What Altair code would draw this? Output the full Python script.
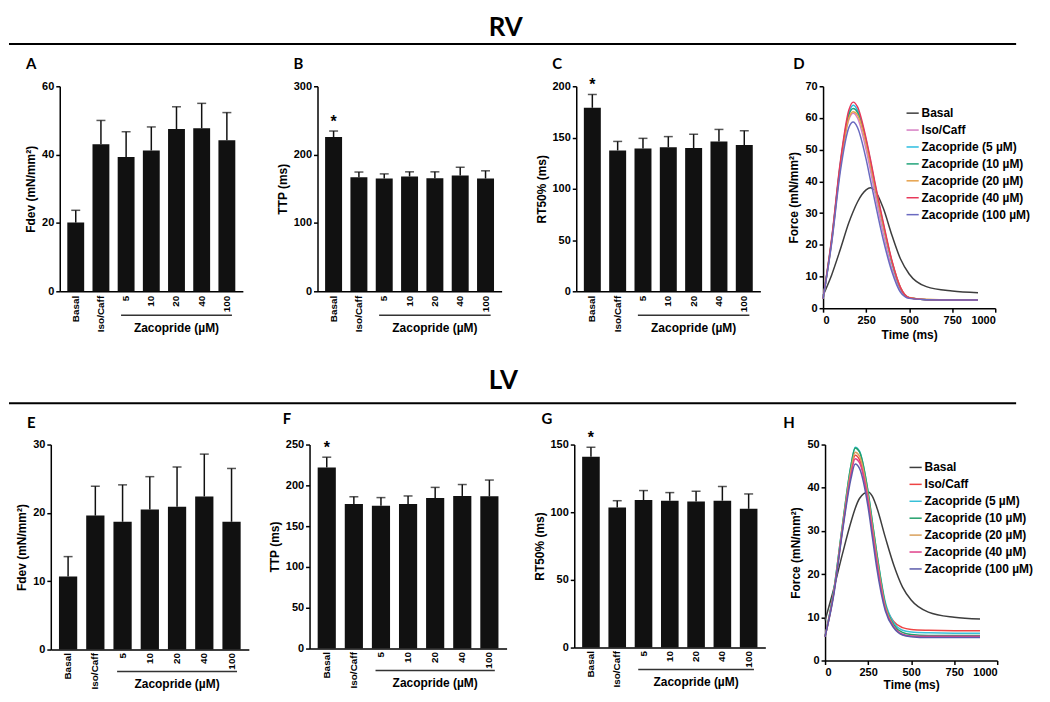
import altair as alt
import pandas as pd

# ---------------- data ----------------
cats = ["Basal", "Iso/Caff", "5", "10", "20", "40", "100"]
zac_label = "Zacopride (µM)"

# RV
rv_fdev = [20.1, 43.0, 39.3, 41.2, 47.5, 47.7, 44.2]
rv_fdev_up = [23.7, 50.0, 46.7, 48.1, 54.0, 55.0, 52.3]
rv_ttp = [225.6, 167.0, 165.0, 168.0, 165.5, 169.5, 165.0]
rv_ttp_up = [234.5, 174.5, 171.8, 174.8, 174.8, 181.5, 176.3]
rv_rt50 = [179.0, 137.4, 139.4, 140.5, 139.8, 146.2, 142.6]
rv_rt50_up = [192.0, 146.2, 149.2, 150.9, 153.2, 157.9, 156.6]

# LV
lv_fdev = [10.7, 19.6, 18.7, 20.5, 20.9, 22.4, 18.7]
lv_fdev_up = [13.6, 23.9, 24.1, 25.3, 26.7, 28.6, 26.5]
lv_ttp = [222.0, 177.0, 175.0, 177.0, 184.5, 187.0, 186.5]
lv_ttp_up = [234.5, 186.0, 185.0, 187.0, 197.5, 201.0, 206.5]
lv_rt50 = [141.0, 103.5, 109.0, 108.5, 108.0, 108.5, 102.5]
lv_rt50_up = [148.0, 108.5, 116.0, 114.5, 115.5, 119.0, 113.5]

series_names = ["Basal", "Iso/Caff", "Zacopride (5 µM)", "Zacopride (10 µM)",
                "Zacopride (20 µM)", "Zacopride (40 µM)", "Zacopride (100 µM)"]
time_ms = [0, 50, 100, 150, 175, 200, 250, 275, 300, 350, 400, 450, 500, 600, 750, 900]

rv_basal = [4.0, 10.5, 18.5, 27.0, 30.5, 33.5, 37.3, 38.0, 37.2, 31.5, 23.0, 15.5, 10.8, 6.8, 5.4, 4.9]
rv_iso = [3.0, 21.0, 44.5, 59.5, 61.5, 60.0, 50.0, 43.5, 36.5, 23.5, 12.5, 5.5, 3.2, 2.7, 2.6, 2.6]
rv_z5 = [3.0, 21.5, 45.5, 61.5, 64.0, 62.5, 53.0, 46.5, 39.5, 26.5, 14.5, 6.3, 3.3, 2.7, 2.6, 2.6]
rv_z10 = [3.0, 21.5, 45.0, 61.0, 63.0, 61.8, 52.5, 46.0, 39.0, 26.0, 14.5, 6.3, 3.3, 2.7, 2.6, 2.6]
rv_z20 = [3.0, 21.0, 44.5, 60.0, 62.0, 61.0, 52.0, 45.5, 38.8, 26.0, 14.8, 6.5, 3.4, 2.8, 2.6, 2.6]
rv_z40 = [3.0, 22.0, 46.0, 62.5, 65.0, 63.5, 53.5, 47.0, 40.0, 27.0, 15.0, 6.5, 3.3, 2.7, 2.6, 2.6]
rv_z100 = [3.0, 20.5, 43.0, 57.0, 58.7, 57.0, 47.0, 40.5, 34.0, 21.5, 11.5, 5.0, 3.1, 2.7, 2.6, 2.6]

lv_basal = [9.3, 16.5, 24.5, 32.0, 35.2, 37.5, 39.0, 38.0, 35.5, 28.5, 22.0, 17.0, 14.0, 11.2, 10.0, 9.6]
lv_iso = [5.5, 15.5, 30.0, 43.5, 47.5, 46.5, 37.0, 30.5, 23.5, 13.0, 9.0, 7.6, 7.2, 7.0, 6.9, 6.9]
lv_z5 = [5.5, 16.0, 31.0, 45.0, 49.4, 48.5, 39.0, 32.0, 25.0, 13.5, 8.7, 7.0, 6.6, 6.4, 6.3, 6.3]
lv_z10 = [5.5, 16.0, 31.0, 45.0, 49.2, 48.3, 39.0, 32.0, 25.0, 13.0, 8.2, 6.5, 6.0, 5.8, 5.8, 5.8]
lv_z20 = [5.5, 15.5, 30.5, 44.0, 48.2, 47.3, 38.0, 31.0, 24.0, 12.5, 7.8, 6.0, 5.6, 5.4, 5.4, 5.4]
lv_z40 = [5.5, 15.5, 30.0, 43.0, 46.7, 45.8, 37.0, 30.0, 23.0, 12.0, 7.8, 6.1, 5.7, 5.6, 5.6, 5.6]
lv_z100 = [5.5, 15.0, 29.5, 42.0, 45.5, 44.5, 35.5, 28.5, 21.5, 11.5, 7.5, 5.9, 5.5, 5.3, 5.3, 5.3]

rv_colors = ["#3d3d3d", "#d77fc4", "#2bbde0", "#21a37a", "#e6a04a", "#e8385a", "#6a6ac0"]
lv_colors = ["#3d3d3d", "#ee4444", "#37c0d8", "#22a06b", "#d9a05b", "#e0408a", "#5b5bab"]

FONT = "Liberation Sans"
LFONT = "Lato"
X0 = 9          # page x of the layout origin (after 1px spacer)
TOTAL_W = 1036  # page x 9 .. 1045


def helper(cell, plot):
    cl, ct, cr, cb = cell
    pl, pt = plot
    return alt.Chart(pd.DataFrame({"k": [0]})).mark_rect(opacity=0).encode(
        x=alt.value(cl - pl), x2=alt.value(cr - pl),
        y=alt.value(ct - pt), y2=alt.value(cb - pt))


def spacer():
    return alt.Chart(pd.DataFrame({"k": [0]})).mark_rect(opacity=0).encode(
        x=alt.value(0), x2=alt.value(1), y=alt.value(0), y2=alt.value(1)
    ).properties(width=1, height=1)


def letter(txt, pos, plot):
    return alt.Chart(pd.DataFrame({"t": [txt]})).mark_text(
        font=LFONT, fontSize=15, fontWeight="bold", align="left",
        baseline="alphabetic", color="black").encode(
        text="t:N", x=alt.value(pos[0] - plot[0]), y=alt.value(pos[1] - plot[1]))


def bar_panel(ltxt, means, ups, ytitle, ymax, ystep, star, plot, w, h, cell,
              lpos, lab_pad, zac_dy):
    df = pd.DataFrame({"cat": cats, "mean": means, "up": ups})
    xs = alt.Scale(domain=cats, paddingInner=0.33, paddingOuter=0.3)
    xax = alt.Axis(title=None, labelAngle=-90, ticks=False, tickSize=0,
                   labelPadding=lab_pad, labelFontSize=10)
    x = alt.X("cat:N", scale=xs, axis=xax, sort=None)
    ys = alt.Scale(domain=[0, ymax], nice=False)
    yax = alt.Axis(title=ytitle, values=list(range(0, ymax + 1, ystep)))
    base = alt.Chart(df)
    layers = [helper(cell, plot)]
    layers.append(base.mark_bar(color="#111111").encode(
        x=x, y=alt.Y("mean:Q", scale=ys, axis=yax)))
    layers.append(base.mark_rule(color="#111111", strokeWidth=1.5).encode(
        x=alt.X("cat:N", scale=xs), y=alt.Y("mean:Q", scale=ys), y2="up:Q"))
    layers.append(base.mark_tick(color="#111111", thickness=1.5, size=9).encode(
        x=alt.X("cat:N", scale=xs), y=alt.Y("up:Q", scale=ys)))
    if star:
        layers.append(base.transform_filter(alt.datum.cat == "Basal").mark_text(
            text="*", font=FONT, fontSize=16, fontWeight="bold", dy=-9,
            color="black").encode(x=alt.X("cat:N", scale=xs), y=alt.Y("up:Q", scale=ys)))
    zr = pd.DataFrame({"cat": ["5"], "cat_end": ["100"]})
    layers.append(alt.Chart(zr).mark_rule(color="#333333", strokeWidth=1.5).encode(
        x=alt.X("cat:N", scale=xs, bandPosition=0.2),
        x2=alt.X2(field="cat_end", bandPosition=0.8),
        y=alt.value(h + zac_dy[0])))
    zt = pd.DataFrame({"cat": ["20"], "t": [zac_label]})
    layers.append(alt.Chart(zt).mark_text(
        font=FONT, fontSize=12, fontWeight="bold", baseline="middle",
        color="black").encode(
        x=alt.X("cat:N", scale=xs), y=alt.value(h + zac_dy[1]), text="t:N"))
    layers.append(letter(ltxt, lpos, plot))
    return alt.layer(*layers).properties(width=w, height=h)


def line_panel(ltxt, series_vals, colors, ymax, plot, w, h, cell, lpos,
               legend_xy, title_pad):
    rows = []
    for name, vals in zip(series_names, series_vals):
        for ti, v in zip(time_ms, vals):
            rows.append({"t": ti, "f": v, "s": name})
    df = pd.DataFrame(rows)
    lines = alt.Chart(df).mark_line(strokeWidth=1.5, interpolate="monotone").encode(
        x=alt.X("t:Q", scale=alt.Scale(domain=[0, 1000], nice=False),
                axis=alt.Axis(title="Time (ms)", values=[0, 250, 500, 750, 1000],
                              format="d", titlePadding=title_pad)),
        y=alt.Y("f:Q", scale=alt.Scale(domain=[0, ymax], nice=False),
                axis=alt.Axis(title="Force (mN/mm²)",
                              values=list(range(0, ymax + 1, 10)))),
        color=alt.Color("s:N", scale=alt.Scale(domain=series_names, range=colors),
                        legend=alt.Legend(title=None, orient="none",
                                          legendX=legend_xy[0], legendY=legend_xy[1],
                                          symbolType="stroke", symbolSize=150,
                                          symbolStrokeWidth=1.5, labelFontSize=12,
                                          labelFont=FONT, labelFontWeight="bold",
                                          labelColor="black", rowPadding=4,
                                          labelOffset=2, padding=0)),
    )
    return alt.layer(helper(cell, plot), lines, letter(ltxt, lpos, plot)).properties(
        width=w, height=h)


def header(txt, cell_top, cell_bot, base_y, line_y):
    # header origin placed at page (X0, cell_top)
    H = cell_bot - cell_top
    t = alt.Chart(pd.DataFrame({"t": [txt]})).mark_text(
        font=LFONT, fontSize=26, fontWeight="bold", align="left",
        baseline="alphabetic", color="black").encode(
        text="t:N", x=alt.value(490 - X0), y=alt.value(base_y - cell_top))
    r = alt.Chart(pd.DataFrame({"k": [0]})).mark_rule(color="black", strokeWidth=2).encode(
        x=alt.value(8 - X0), x2=alt.value(1020 - X0), y=alt.value(line_y - cell_top))
    return alt.layer(helper((X0 - 1, cell_top, X0 + TOTAL_W, cell_bot), (X0, cell_top)),
                     t, r).properties(width=TOTAL_W, height=H)


# ---------------- layout (page coordinates) ----------------
R1T, R1B = 46, 360
R2T, R2B = 406, 692
P1 = 85    # common plot top, row 1
P2 = 445   # common plot top, row 2

A = bar_panel("A", rv_fdev, rv_fdev_up, "Fdev (mN/mm²)", 60, 10, False,
              (58, P1), 184, 206, (X0, R1T, 262, R1B), (24, 68), 4, (24, 37))
B = bar_panel("B", rv_ttp, rv_ttp_up, "TTP (ms)", 300, 100, True,
              (317, P1), 185, 206, (262, R1T, 522, R1B), (293, 68), 4, (24, 37))
C = bar_panel("C", rv_rt50, rv_rt50_up, "RT50% (ms)", 200, 50, True,
              (577, P1), 185, 206, (522, R1T, 782, R1B), (553, 68), 4, (24, 37))
D = line_panel("D", [rv_basal, rv_iso, rv_z5, rv_z10, rv_z20, rv_z40, rv_z100],
               rv_colors, 70, (825, P1), 173, 223, (782, R1T, 1045, R1B),
               (795, 68), (83, 20), 4)

E = bar_panel("E", lv_fdev, lv_fdev_up, "Fdev (mN/mm²)", 30, 10, False,
              (49, P2), 199, 206, (X0, R2T, 262, R2B), (25, 428), 3, (22, 35))
F = bar_panel("F", lv_ttp, lv_ttp_up, "TTP (ms)", 250, 50, True,
              (309, P2), 198, 205, (262, R2T, 522, R2B), (282, 424), 3, (22, 35))
G = bar_panel("G", lv_rt50, lv_rt50_up, "RT50% (ms)", 150, 50, True,
              (575, P2), 192, 204, (522, R2T, 782, R2B), (542, 424), 3, (22, 35))
H = line_panel("H", [lv_basal, lv_iso, lv_z5, lv_z10, lv_z20, lv_z40, lv_z100],
               lv_colors, 50, (827, P2), 173, 217, (782, R2T, 1045, R2B),
               (785, 428), (84, 16), 2)

head1 = header("RV", 8, R1T, 34, 42.5)
head2 = header("LV", R1B, R2T, 389.5, 403.5)

row1 = alt.hconcat(spacer(), A, B, C, D, spacing=0).resolve_scale(
    color="independent").resolve_legend(color="independent")
row2 = alt.hconcat(spacer(), E, F, G, H, spacing=0).resolve_scale(
    color="independent").resolve_legend(color="independent")

chart = alt.vconcat(head1, row1, head2, row2, spacing=0).resolve_scale(
    color="independent").resolve_legend(color="independent").properties(
    padding=0
).configure_axis(
    domainColor="black", domainWidth=1.5, tickColor="black", tickWidth=1.5,
    tickSize=4, labelFont=FONT, labelFontSize=11, labelFontWeight="bold",
    labelColor="black", titleFont=FONT, titleFontSize=12, titleFontWeight="bold",
    titleColor="black", grid=False
).configure_view(stroke=None).configure_concat(spacing=0)

chart.save("out.html", embed_options={"renderer": "svg", "actions": False})
